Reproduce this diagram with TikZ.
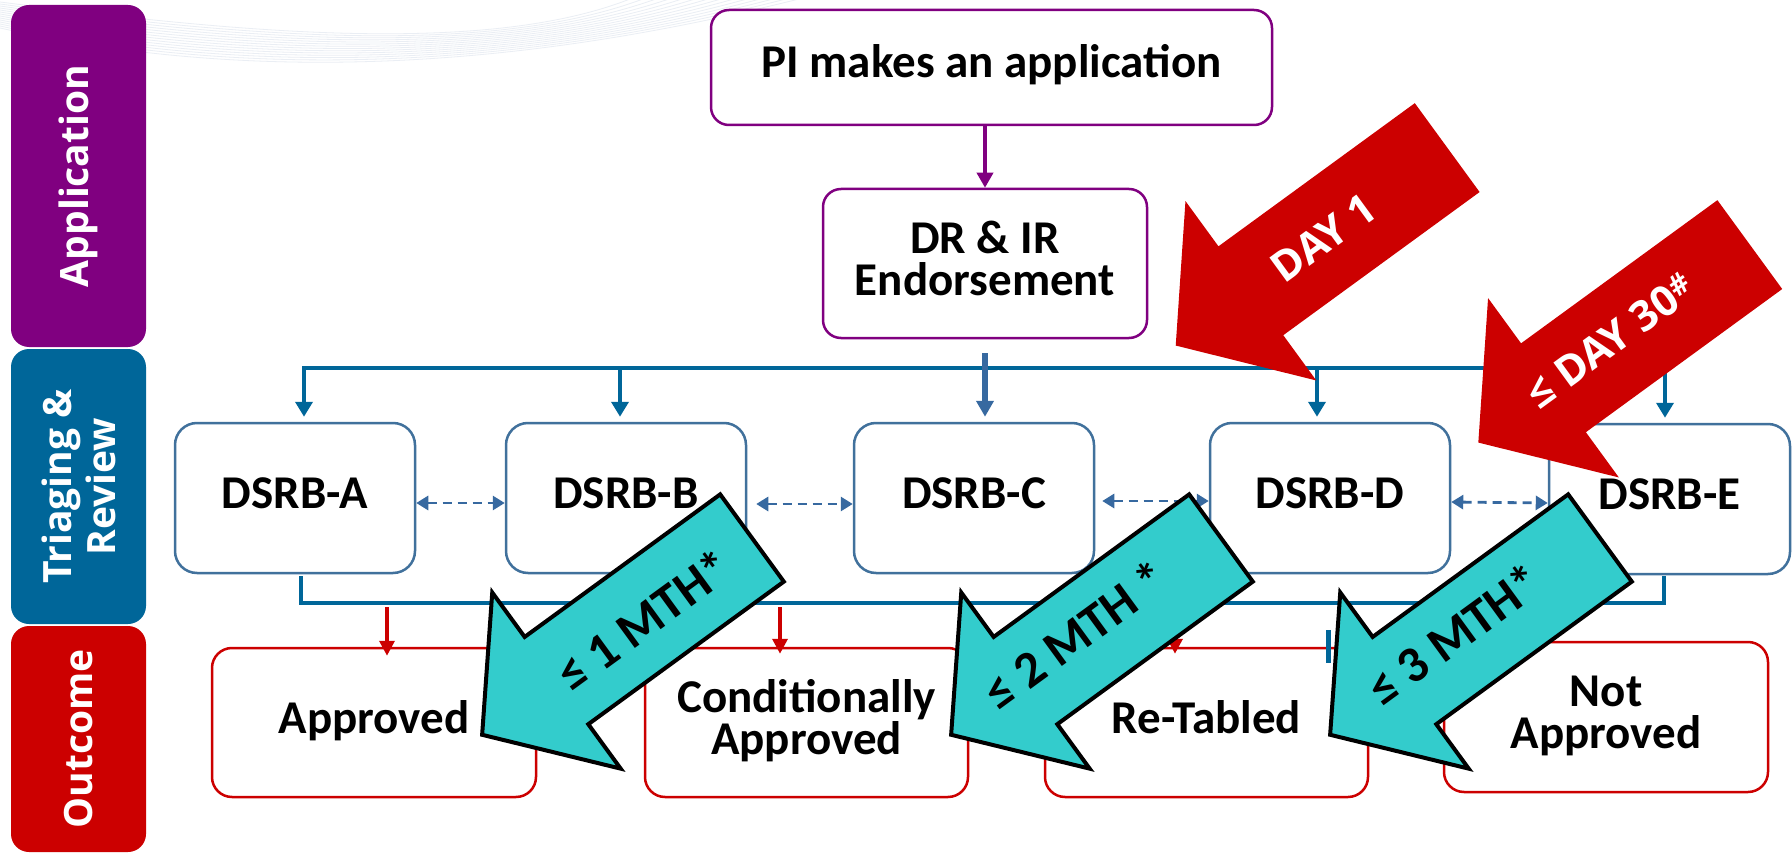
\documentclass[tikz,border=0pt]{standalone}
\usepackage{fontspec}
\setmainfont{Carlito}
\newfontfamily\sidefont{Open Sans}
\usetikzlibrary{arrows.meta,calc}
\definecolor{appPurple}{RGB}{128,0,128}
\definecolor{triBlue}{RGB}{0,102,153}
\definecolor{outRed}{RGB}{204,0,0}
\definecolor{boxBlue}{RGB}{65,113,156}
\definecolor{linkBlue}{RGB}{55,105,160}
\definecolor{arrowCyan}{RGB}{51,204,204}
\definecolor{swooshGray}{RGB}{234,238,244}
\newcommand\boxfont{\bfseries\fontsize{47}{42}\selectfont}
\newcommand\sidetextfont{\sidefont\bfseries\fontsize{39}{44}\selectfont}
\newcommand\dayfont{\sidefont\bfseries\fontsize{42}{42}\selectfont}
\newcommand\mthfont{\bfseries\fontsize{51}{51}\selectfont}
\tikzset{
  sidebar/.style={rounded corners=18pt, rotate=90, inner sep=0pt, text=white, font=\sidetextfont, align=center},
  appbox/.style={draw=appPurple, line width=2.5pt, rounded corners=18pt, fill=white, inner sep=0pt, font=\boxfont, align=center},
  dsrbbox/.style={draw=boxBlue, line width=2.5pt, rounded corners=22pt, fill=white, inner sep=0pt, font=\boxfont, minimum width=240pt, minimum height=150pt, text height=30pt, text depth=10pt},
  outbox/.style={draw=outRed, line width=2.5pt, rounded corners=20pt, fill=white, inner sep=0pt, font=\boxfont, align=center, minimum width=324pt, minimum height=149pt},
  oneline/.style={text height=30pt, text depth=9pt},
  twoline/.style={text height=72pt, text depth=9pt},
  busline/.style={draw=triBlue, line width=4.5pt},
  bustip/.style={-{Triangle[width=17pt,length=15pt]}},
  reddrop/.style={draw=outRed, line width=3.5pt, -{Triangle[width=15pt,length=15pt]}},
  duallink/.style={draw=linkBlue, line width=2.8pt, dash pattern=on 9pt off 6pt, {Triangle[width=14pt,length=12pt]}-{Triangle[width=14pt,length=12pt]}},
  dayarrow/.style={fill=outRed},
  mtharrow/.style={fill=arrowCyan, draw=black, line width=4pt},
  daytext/.style={text=white, font=\dayfont, rotate=36.1, inner sep=0pt},
  mthtext/.style={text=black, font=\mthfont, rotate=36.1, inner sep=0pt}
}
\begin{document}
\begin{tikzpicture}[x=1pt,y=-1pt]
\useasboundingbox (0,0) rectangle (1792,853);
\fill[white] (0,0) rectangle (1792,853);
% background swoosh
\foreach \i in {0,...,13}{
  \draw[swooshGray, line width=0.8pt] (0,{2+2*\i}) .. controls (220,{30+3.6*\i}) and (480,{58+1.6*\i}) .. ({630+13*\i},-1);
}
% side bars
\node[sidebar, fill=appPurple, minimum width=342pt, minimum height=135pt] (barApp) at (78.5,176) {Application};
\node[sidebar, fill=triBlue, minimum width=275pt, minimum height=135pt] (barTri) at (78.5,486.5) {Triaging \&\\Review};
\node[sidebar, fill=outRed, minimum width=226pt, minimum height=135pt] (barOut) at (78.5,739) {Outcome};
% application boxes
\node[appbox, oneline, minimum width=561pt, minimum height=115pt] (pi) at (991.5,67.5) {PI makes an application};
\node[appbox, twoline, minimum width=324pt, minimum height=149pt] (dr) at (985,263.5) {DR \& IR\\Endorsement};
\draw[draw=appPurple, line width=3.5pt, -{Triangle[width=16pt,length=15pt]}] (dr.north |- pi.south) -- (dr.north);
% DSRB boxes
\node[dsrbbox] (dA) at (295,498) {DSRB-A};
\node[dsrbbox] (dB) at (626,498) {DSRB-B};
\node[dsrbbox] (dC) at (974,498) {DSRB-C};
\node[dsrbbox] (dD) at (1330,498) {DSRB-D};
\node[dsrbbox, minimum width=241pt] (dE) at (1669.5,499) {DSRB-E};
% top bus
\coordinate (tA) at (304,368);
\coordinate (tB) at (620,368);
\coordinate (tD) at (1317,368);
\coordinate (tE) at (1665,368);
\draw[busline, {Triangle[width=17pt,length=15pt]}-{Triangle[width=17pt,length=15pt]}, shorten <=5pt, shorten >=5pt] (tA |- dA.north) -- (tA) -- (tE) -- (tE |- dE.north);
\draw[busline, bustip, shorten >=5pt] (tB) -- (tB |- dB.north);
\draw[busline, bustip, shorten >=5pt] (tD) -- (tD |- dD.north);
\draw[draw=linkBlue, line width=5.5pt, -{Triangle[width=17pt,length=16pt]}, shorten >=5pt] ($(dr.south)+(0,14)$) -- (dr.south |- dC.north);
% dashed links
\draw[duallink] ([yshift=-5pt]dA.east) -- ([yshift=-5pt]dB.west);
\draw[duallink, shorten <=9pt] ([yshift=-6pt]dB.east) -- ([yshift=-6pt]dC.west);
\draw[duallink, shorten <=7pt] ([yshift=-3pt]dC.east) -- ([yshift=-3pt]dD.west);
\draw[duallink] ([yshift=-4pt]dD.east) -- ([yshift=-4pt]dE.west);
% outcome boxes
\node[outbox, oneline] (oA) at (374,722.5) {Approved};
\node[outbox, twoline, minimum width=323pt] (oC) at (806.5,722.5) {Conditionally\\Approved};
\node[outbox, oneline, minimum width=323pt] (oR) at (1206.5,722.5) {Re-Tabled};
\node[outbox, twoline, minimum height=150pt] (oN) at (1606,717) {Not\\Approved};
% bottom bus
\coordinate (bA) at (301,603);
\coordinate (bE) at (1664,603);
\draw[busline] ($(bA |- dA.south)+(0,2)$) -- (bA) -- (bE) -- ($(bE |- dE.south)+(0,1)$);
\coordinate (r1) at (387,607);
\coordinate (r2) at (780,607);
\coordinate (r3) at (1175,607);
\draw[reddrop, shorten >=-9pt] (r1) -- (r1 |- oA.north);
\draw[reddrop, shorten >=-7pt] (r2) -- (r2 |- oC.north);
\draw[reddrop, shorten >=-7pt] (r3) -- (r3 |- oR.north);
\draw[triBlue, line width=5pt] (982.5,628) -- (982.5,640);
\draw[triBlue, line width=5pt] (1328.5,630) -- (1328.5,663);
% red time arrows
\begin{scope}[shift={(1447.2,147.6)}, rotate=216.1]
  \path[dayarrow] (0,-55) -- (243,-55) -- (243,-111) -- (336,0) -- (243,111) -- (243,55) -- (0,55) -- cycle;
  \node[daytext] (day1) at (153,0) {DAY 1};
\end{scope}
\begin{scope}[shift={(1749.8,244.6)}, rotate=216.1]
  \path[dayarrow] (0,-55) -- (243,-55) -- (243,-111) -- (336,0) -- (243,111) -- (243,55) -- (0,55) -- cycle;
  \node[daytext] (day30) at (169,5) {≤ DAY 30\textsuperscript{\#}};
\end{scope}
% cyan time arrows
\begin{scope}[shift={(752,538)}, rotate=216.1]
  \path[mtharrow] (0,-54) -- (242,-54) -- (242,-109) -- (334,0) -- (242,109) -- (242,54) -- (0,54) -- cycle;
  \node[mthtext] (m1) at (136,-2) {≤ 1 MTH*};
\end{scope}
\begin{scope}[shift={(1221,538)}, rotate=216.1]
  \path[mtharrow] (0,-54) -- (242,-54) -- (242,-109) -- (334,0) -- (242,109) -- (242,54) -- (0,54) -- cycle;
  \node[mthtext] (m2) at (175,8) {≤ 2 MTH *};
\end{scope}
\begin{scope}[shift={(1600,538)}, rotate=216.1]
  \path[mtharrow] (0,-54) -- (242,-54) -- (242,-109) -- (334,0) -- (242,109) -- (242,54) -- (0,54) -- cycle;
  \node[mthtext] (m3) at (175,8) {≤ 3 MTH*};
\end{scope}
\end{tikzpicture}
\end{document}
